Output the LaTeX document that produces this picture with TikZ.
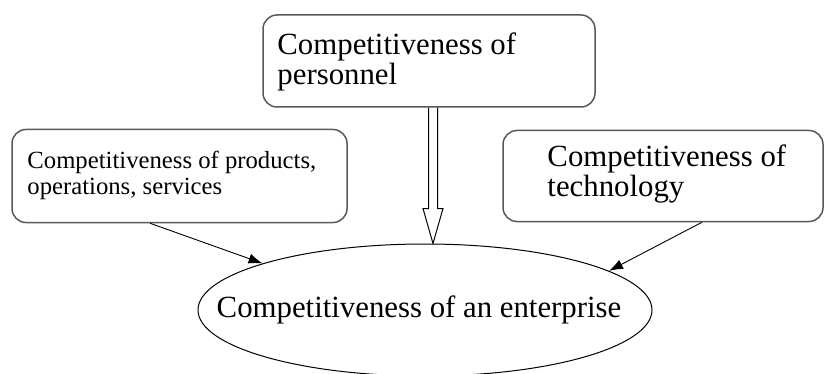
\documentclass[tikz,border=0pt]{standalone}
\usepackage{fontspec}
\setmainfont{Liberation Serif}
\usetikzlibrary{arrows.meta,shapes.geometric,calc}

\begin{document}
\begin{tikzpicture}[x=1pt, y=-1pt,
    box/.style={draw=black!65, line width=1.5pt, rounded corners=14pt},
    lbl/.style={anchor=west, align=left, inner sep=0pt, font=\fontsize{30.8}{29.5}\selectfont},
    small/.style={font=\fontsize{24.7}{26}\selectfont},
    ]
    \useasboundingbox (0,0) rectangle (824,374);
    % the three boxes
    \node[box, minimum width=332pt, minimum height=92pt] (pers) at (429,61) {};
    \node[box, minimum width=335pt, minimum height=93pt] (prod) at (179.5,176) {};
    \node[box, minimum width=320pt, minimum height=91pt] (tech) at (663,176) {};
    \node[lbl] (perslbl) at ([xshift=15pt,yshift=-1pt]pers.west) {Competitiveness of\\personnel};
    \node[lbl, small] (prodlbl) at ([xshift=16pt,yshift=1pt]prod.west) {Competitiveness of products,\\operations, services};
    \node[lbl] (techlbl) at ([xshift=45pt,yshift=2pt]tech.west) {Competitiveness of\\technology};
    % the enterprise
    \node[draw, ellipse, line width=1pt, minimum width=454pt, minimum height=132pt, inner sep=0pt] (ent) at (425,310) {};
    \node[font=\fontsize{30.8}{30}\selectfont] (entlbl) at ([xshift=-6pt]ent.center) {Competitiveness of an enterprise};
    % arrows
    \draw [-{Latex[length=14pt,width=10pt]}, line width=0.9pt] ([xshift=-29.5pt]prod.south) -- (ent.164);
    \draw [-{Latex[length=14pt,width=10pt]}, line width=0.9pt] ([xshift=39pt]tech.south) -- (ent.12);
    \coordinate (ts) at ([xshift=4pt]pers.south);
    \coordinate (tip) at (ts |- ent.north);
    \draw [line width=1pt] ($(ts)+(-4.5,0)$) -- ($(tip)+(-4.5,-35)$) -- ($(tip)+(-10,-35)$) -- (tip)
        -- ($(tip)+(10,-35)$) -- ($(tip)+(4.5,-35)$) -- ($(ts)+(4.5,0)$);
\end{tikzpicture}
\end{document}
